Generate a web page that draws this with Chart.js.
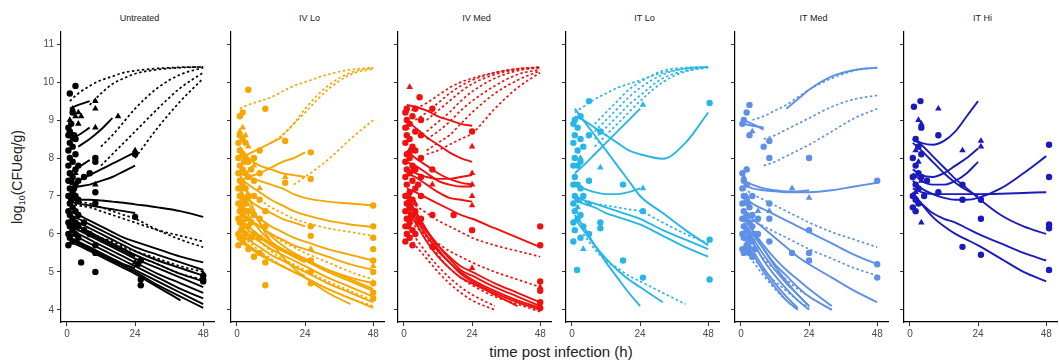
<!DOCTYPE html>
<html>
<head>
  <title>Bacterial burden by treatment</title>
  <script src="https://cdn.jsdelivr.net/npm/chart.js"></script>
  <style>
    body { margin: 0; width: 1059px; height: 362px; overflow: hidden; background: #fff; position: relative; font-family: "Liberation Sans", Arial, sans-serif; }
    canvas { position: absolute; top: 0; }
    .strip { position: absolute; top: 13px; font-size: 9px; color: #1a1a1a; text-align: center; }
    #ytitle { position: absolute; left: 18px; top: 177px; transform: translate(-50%, -50%) rotate(-90deg); font-size: 14px; color: #222; white-space: nowrap; }
    #xtitle { position: absolute; left: 561px; top: 343px; transform: translateX(-50%); font-size: 15px; color: #222; white-space: nowrap; }
  </style>
</head>
<body>
  <div id="ytitle">log<sub style="font-size:9px">10</sub>(CFUeq/g)</div>
  <div id="xtitle">time post infection (h)</div>

  <script>
    // facets and shared axes
    const panelNames = ['Untreated', 'IV Lo', 'IV Med', 'IT Lo', 'IT Med', 'IT Hi'];
    const panelColors = ['#000000', '#F7A600', '#F01010', '#26B6E8', '#5E90E8', '#1A1ABE'];
    const xTicks = [0, 24, 48];
    const yTicks = [4, 5, 6, 7, 8, 9, 10, 11];
    // model curves are given at these times (h)
    const curveTimes = [1, 4, 8, 12, 16, 20, 24, 32, 40, 48];

    // ---- Untreated ----
    const untreatedSolid = [
      [null, 8.3, 8.5, 8.75, 9.05],
      [7.6, 7.75, 7.95],
      [7.3, 7.4, 7.55, 7.7, 7.85, 8.0, 8.15],
      [7.2, 7.25, 7.3, 7.4, 7.5, 7.65, 7.8],
      [9.3, 9.4, 9.5],
      [8.5, 8.6, 8.8],
      [6.9, 6.9, 6.9, 6.88, 6.85, 6.82, 6.78, 6.7, 6.6, 6.45],
      [6.85, 6.8, 6.75, 6.7, 6.65, 6.6, 6.55],
      [6.6, 6.5, 6.35, 6.2, 6.05, 5.9, 5.8, 5.6, 5.4, 5.25],
      [6.5, 6.4, 6.25, 6.1, 5.95, 5.8, 5.65, 5.45, 5.25, 5.05],
      [6.4, 6.3, 6.15, 6.0, 5.85, 5.7, 5.55, 5.3, 5.1, 4.9],
      [6.3, 6.2, 6.05, 5.9, 5.75, 5.6, 5.45, 5.2, 4.95, 4.75],
      [6.2, 6.1, 5.95, 5.8, 5.65, 5.5, 5.35, 5.1, 4.85, 4.6],
      [6.1, 6.0, 5.85, 5.7, 5.55, 5.4, 5.25, 4.95, 4.7, 4.45],
      [6.0, 5.9, 5.75, 5.6, 5.45, 5.3, 5.15, 4.85, 4.55, 4.3],
      [5.9, 5.8, 5.65, 5.5, 5.35, 5.2, 5.05, 4.75, 4.45, 4.15],
      [5.85, 5.75, 5.6, 5.45, 5.3, 5.15, 5.0, 4.65, 4.35, 4.05],
      [5.8, 5.7, 5.55, 5.4, 5.25, 5.1, 4.95, 4.6, 4.25],
      [6.3, 6.2, 6.0, 5.85, 5.7, 5.55, 5.4],
      [5.9, 5.75, 5.6, 5.45, 5.3, 5.2, 5.1]
    ];
    const untreatedDashed = [
      [9.5, 9.7, 9.9, 10.05, 10.15, 10.25, 10.3, 10.36, 10.39, 10.4],
      [null, null, 9.4, 9.7, 9.95, 10.1, 10.22, 10.33, 10.38, 10.4],
      [null, null, null, 8.3, 8.6, 8.95, 9.3, 9.85, 10.2, 10.38],
      [null, null, null, 7.8, 8.1, 8.4, 8.7, 9.3, 9.85, 10.25],
      [null, null, null, null, null, null, 8.0, 8.8, 9.5, 10.1],
      [6.9, 6.85, 6.8, 6.7, 6.6, 6.5, 6.4, 6.1, 5.85, 5.65],
      [6.8, 6.75, 6.7, 6.6, 6.5, 6.4, 6.3, 6.1, 5.95, 5.8],
      [6.3, 6.2, 6.05, 5.9, 5.8, 5.65, 5.55, 5.35, 5.15, 5.0],
      [6.2, 6.1, 6.0, 5.85, 5.7, 5.6, 5.45, 5.2, 4.95, 4.8]
    ];
    const untreatedCircles = [
      [0.5, 5.7], [0.5, 6.0], [0.5, 6.3], [0.5, 6.6], [0.5, 7.0], [0.5, 7.4], [0.5, 7.8], [0.5, 8.2], [0.5, 8.6], [0.5, 8.8],
      [1, 5.9], [1, 6.2], [1, 6.5], [1, 6.8], [1, 7.2], [1, 7.6], [1, 8.0], [1, 8.4], [1, 8.7], [1, 9.7],
      [2, 5.8], [2, 6.1], [2, 6.4], [2, 6.7], [2, 7.1], [2, 7.5], [2, 7.9], [2, 8.3], [2, 9.2],
      [3, 6.0], [3, 6.6], [3, 7.0], [3, 7.3], [3, 7.7], [3, 9.9], [3, 8.1], [3, 8.5], [3, 6.3],
      [4, 6.2], [4, 6.9], [4, 7.4], [4, 5.9], [4, 6.5], [4, 7.8],
      [1.5, 7.4], [1.5, 6.9], [2.5, 6.2], [2.5, 7.2], [2.5, 8.6], [1.5, 8.9],
      [5, 5.25], [6, 6.1], [6, 6.3], [6, 7.5], [8, 6.0], [8, 7.6],
      [10, 5.0], [10, 5.5], [10, 5.7], [10, 7.1], [10, 7.9], [10, 8.0], [10, 6.8],
      [24, 6.45], [24, 8.1], [25, 5.2], [26, 4.8], [26, 4.65], [26, 5.3],
      [48, 4.9], [48, 4.75], [48, 4.8]
    ];
    const untreatedTriangles = [
      [1, 9.0], [2, 9.3], [3, 9.1], [4, 9.2], [4, 8.9], [5, 9.1], [10, 9.5], [10, 9.3], [10, 8.8],
      [18, 9.1], [24, 8.2], [2, 8.5], [3, 7.6], [2, 7.0], [10, 7.3], [24, 5.25], [48, 4.95]
    ];

    // ---- IV Lo ----
    const ivLoSolid = [
      [8.0, 8.1, 8.25, 8.4, 8.55],
      [7.4, 7.5, 7.6, 7.75, 7.9, 8.0, 8.15],
      [8.3, 8.0, 7.8, 7.7, 7.6, 7.55, 7.5],
      [7.6, 7.5, 7.4, 7.3, 7.2, 7.05, 6.95, 6.85, 6.8, 6.75],
      [7.5, 7.3, 7.1, 6.9, 6.75, 6.6, 6.5, 6.35, 6.25, 6.18],
      [7.1, 6.9, 6.7, 6.55, 6.4, 6.3, 6.2],
      [6.8, 6.6, 6.4, 6.2, 6.05, 5.9, 5.8, 5.6, 5.45, 5.3],
      [6.6, 6.4, 6.2, 6.0, 5.85, 5.7, 5.6, 5.4, 5.2, 5.05],
      [6.9, 6.5, 6.1, 5.8, 5.6, 5.45, 5.3, 5.05, 4.85, 4.7],
      [7.2, 6.8, 6.3, 5.95, 5.7, 5.5, 5.35, 5.05, 4.8, 4.55],
      [6.4, 6.2, 5.95, 5.75, 5.6, 5.45, 5.3, 5.0, 4.75, 4.5],
      [6.2, 6.0, 5.8, 5.6, 5.45, 5.3, 5.15, 4.85, 4.6, 4.35],
      [6.0, 5.85, 5.65, 5.45, 5.3, 5.15, 5.0, 4.7, 4.45, 4.2],
      [5.9, 5.7, 5.5, 5.3, 5.15, 5.0, 4.85, 4.55, 4.3, 4.05],
      [7.6, 7.0, 6.3, 5.8, 5.4, 5.1, 4.85, 4.45, 4.15],
      [6.3, 6.1, 5.9, 5.7, 5.55, 5.4, 5.25],
      [5.8, 5.65, 5.45, 5.3, 5.15, 5.0, 4.9]
    ];
    const ivLoDashed = [
      [9.3, 9.4, 9.5, 9.6, 9.75, 9.9, 10.0, 10.2, 10.33, 10.38],
      [null, null, null, null, 8.6, 8.9, 9.3, 9.9, 10.25, 10.38],
      [null, null, null, 8.4, 8.6, 8.9, 9.2, 9.8, 10.2, 10.35],
      [null, null, null, null, null, 7.3, 7.5, 7.95, 8.5, 9.0],
      [7.3, 7.1, 6.9, 6.7, 6.55, 6.4, 6.3, 6.15, 6.05, 5.95],
      [6.6, 6.4, 6.2, 6.0, 5.8, 5.65, 5.5, 5.25, 5.0, 4.8],
      [6.0, 5.8, 5.55, 5.35, 5.15, 5.0, 4.85, 4.55, 4.3, 4.1],
      [6.4, 6.1, 5.8, 5.55, 5.35, 5.2, 5.05, 4.75, 4.5, 4.25]
    ];
    const ivLoCircles = [
      [0.5, 5.7], [0.5, 6.0], [0.5, 6.4], [0.5, 6.8], [0.5, 7.2], [0.5, 7.6], [0.5, 8.0], [0.5, 8.4],
      [1, 5.9], [1, 6.3], [1, 6.6], [1, 7.0], [1, 7.4], [1, 7.8], [1, 8.2], [1, 8.6], [1, 9.1],
      [2, 5.8], [2, 6.2], [2, 6.5], [2, 6.9], [2, 7.3], [2, 7.7], [2, 8.1], [2, 8.5], [2, 9.2],
      [3, 6.0], [3, 6.4], [3, 6.8], [3, 7.2], [3, 7.6], [3, 8.0], [3, 8.4],
      [4, 5.6], [4, 6.2], [4, 6.6], [4, 7.0], [4, 7.5], [4, 7.9], [4, 9.8],
      [1.5, 6.1], [1.5, 6.7], [1.5, 7.2], [2.5, 6.6], [2.5, 7.9], [5, 6.3], [5, 7.7], [5, 5.9],
      [6, 5.4], [6, 6.0], [6, 6.5], [6, 7.0], [6, 7.4], [6, 8.0],
      [8, 5.9], [8, 6.4], [8, 6.9], [8, 7.6], [8, 8.2], [8, 5.5],
      [10, 5.25], [10, 4.65], [10, 9.3], [10, 6.2], [10, 6.6],
      [17, 8.45], [17, 7.35],
      [26, 8.15], [26, 7.45], [26, 6.2], [26, 5.95], [26, 5.3], [26, 5.0], [26, 4.7],
      [48, 6.75], [48, 6.2], [48, 5.9], [48, 5.6], [48, 5.3], [48, 5.0], [48, 4.7], [48, 4.45], [48, 4.3]
    ];
    const ivLoTriangles = [
      [1, 8.7], [2, 8.8], [3, 8.6], [4, 8.3], [6, 7.8], [8, 7.2], [3, 5.9], [17, 7.5], [26, 5.6], [48, 5.15]
    ];

    // ---- IV Med ----
    const ivMedSolid = [
      [9.4, 9.35, 9.25, 9.1, 9.0, 8.9, 8.85],
      [9.0, 8.8, 8.55, 8.35, 8.15, 8.0, 7.9],
      [7.7, 7.6, 7.5, 7.45, 7.45, 7.5, 7.55],
      [7.9, 7.8, 7.6, 7.4, 7.3, 7.25, 7.25],
      [7.6, 7.5, 7.3, 7.1, 6.95, 6.9, 6.85],
      [8.2, 8.0, 7.8, 7.6, 7.45, 7.35, 7.3],
      [7.2, 7.1, 6.95, 6.8, 6.65, 6.5, 6.4, 6.15, 5.9, 5.65],
      [6.8, 6.5, 6.05, 5.7, 5.4, 5.15, 5.0, 4.7, 4.45, 4.2],
      [6.9, 6.6, 6.1, 5.7, 5.35, 5.05, 4.9, 4.6, 4.35, 4.1],
      [6.7, 6.4, 5.95, 5.55, 5.25, 4.95, 4.75, 4.45, 4.2, 4.0],
      [7.0, 6.6, 6.1, 5.6, 5.25, 5.0, 4.8, 4.5, 4.25, 4.05],
      [6.6, 6.3, 5.8, 5.4, 5.1, 4.85, 4.7, 4.4, 4.1]
    ];
    const ivMedDashed = [
      [9.2, 9.3, 9.45, 9.65, 9.85, 10.0, 10.1, 10.25, 10.35, 10.38],
      [null, 9.0, 9.2, 9.45, 9.7, 9.9, 10.05, 10.25, 10.35, 10.4],
      [null, null, 9.0, 9.25, 9.5, 9.75, 9.95, 10.2, 10.33, 10.39],
      [null, null, 8.7, 8.95, 9.2, 9.5, 9.75, 10.1, 10.3, 10.38],
      [null, null, 8.5, 8.7, 8.95, 9.25, 9.5, 9.9, 10.2, 10.33],
      [null, null, 8.2, 8.4, 8.6, 8.9, 9.2, 9.7, 10.05, 10.3],
      [null, null, 8.1, 8.2, 8.35, 8.5, 8.65, 9.3, 9.85, 10.25],
      [6.9, 6.75, 6.55, 6.35, 6.2, 6.05, 5.9, 5.7, 5.55, 5.4],
      [6.4, 6.2, 5.95, 5.75, 5.55, 5.4, 5.25, 5.0, 4.8, 4.6],
      [6.2, 5.9, 5.5, 5.15, 4.85, 4.6, 4.4, 4.1],
      [6.0, 5.7, 5.35, 5.0, 4.7, 4.45, 4.25, 4.0],
      [6.9, 6.5, 5.9, 5.45, 5.1, 4.85, 4.65, 4.35, 4.15, 3.95]
    ];
    const ivMedCircles = [
      [0.5, 5.8], [0.5, 6.2], [0.5, 6.6], [0.5, 7.0], [0.5, 7.5], [0.5, 7.9], [0.5, 8.4], [0.5, 8.8], [0.5, 9.2],
      [1, 6.0], [1, 6.4], [1, 6.8], [1, 7.3], [1, 7.7], [1, 8.1], [1, 8.6], [1, 9.0], [1, 9.3],
      [2, 5.9], [2, 6.3], [2, 6.7], [2, 7.1], [2, 7.6], [2, 8.0], [2, 8.5], [2, 8.9],
      [3, 6.1], [3, 6.5], [3, 6.9], [3, 7.4], [3, 7.8], [3, 8.3], [3, 9.1], [3, 5.7],
      [4, 6.0], [4, 6.6], [4, 7.2], [4, 7.7], [4, 8.2], [4, 8.7], [4, 9.3],
      [1.5, 6.2], [1.5, 7.0], [2.5, 6.5], [2.5, 8.2], [5, 6.3], [5, 7.3],
      [5.5, 9.6], [6, 6.4], [6, 7.0], [6, 7.5], [6, 8.0], [6, 8.6], [6, 9.0],
      [10, 9.3], [10, 5.66], [10, 7.7], [10, 6.5],
      [17.5, 6.5], [24, 6.1], [24, 8.7],
      [48, 6.2], [48, 5.7], [48, 4.75], [48, 4.5], [48, 4.2], [48, 4.05]
    ];
    const ivMedTriangles = [
      [2, 9.87], [1, 8.8], [2, 8.2], [3, 7.7], [4, 6.8], [24, 8.3], [24, 7.6], [24, 7.3], [24, 7.0],
      [24, 6.75], [10, 7.3], [2, 6.4], [24, 5.1], [48, 4.6]
    ];

    // ---- IT Lo ----
    const itLoSolid = [
      [7.6, 7.8, 8.1, 8.4, 8.7, 9.0, 9.3],
      [9.1, 9.0, 8.8, 8.6, 8.4, 8.2, 8.1, 7.98, 8.4, 9.2],
      [9.3, 9.0, 8.6, 8.2, 7.8, 7.4, 7.0, 6.55, 6.1, 5.7],
      [7.3, 7.2, 7.1, 7.05, 7.05, 7.1, 7.2],
      [7.0, 6.9, 6.8, 6.7, 6.6, 6.5, 6.4, 6.1, 5.85, 5.6],
      [6.9, 6.8, 6.7, 6.55, 6.45, 6.35, 6.25, 5.95, 5.65, 5.4],
      [6.5, 6.2, 5.7, 5.25, 4.85, 4.45, 4.1],
      [6.4, 6.1, 5.7, 5.35, 5.05, 4.8, 4.6, 4.2]
    ];
    const itLoDashed = [
      [9.2, 9.35, 9.55, 9.7, 9.85, 9.95, 10.05, 10.25, 10.35, 10.4],
      [null, null, 8.9, 9.2, 9.5, 9.8, 10.0, 10.3, 10.38, 10.4],
      [null, null, 8.7, 9.0, 9.3, 9.6, 9.85, 10.2, 10.36, 10.4],
      [null, null, 8.5, 8.8, 9.1, 9.4, 9.65, 10.1, 10.3, 10.4],
      [null, null, 8.3, 8.6, 8.9, 9.2, 9.5, 10.0, 10.28, 10.38],
      [6.9, 6.85, 6.8, 6.75, 6.7, 6.65, 6.6, 6.3, 6.0, 5.75],
      [null, 6.0, 5.6, 5.3, 5.1, 4.9, 4.75, 4.45, 4.15]
    ];
    const itLoCircles = [
      [0.5, 5.8], [0.5, 6.3], [0.5, 6.8], [0.5, 7.3], [0.5, 7.8], [0.5, 8.4], [0.5, 8.9],
      [1, 6.1], [1, 6.6], [1, 7.0], [1, 7.5], [1, 8.0], [1, 8.6], [1, 9.0],
      [1.8, 5.05], [2, 6.4], [2, 6.9], [2, 7.3], [2, 7.8], [2, 8.2], [2, 8.8],
      [3, 5.9], [3, 6.5], [3, 7.2], [3, 7.9], [3, 8.5], [3, 9.1],
      [4, 6.2], [4, 7.0], [4, 8.3], [6, 9.5], [6, 8.6], [6, 7.4], [6, 6.0],
      [10, 6.3], [10, 6.15], [10, 8.7], [18, 7.3], [18, 5.3], [25, 4.85], [25, 6.6],
      [48.5, 9.45], [48.5, 5.85], [48.5, 4.8]
    ];
    const itLoTriangles = [
      [1, 7.3], [2, 6.7], [3, 8.0], [4, 5.6], [10, 7.75], [25, 9.4], [25, 7.2], [6, 6.8]
    ];

    // ---- IT Med ----
    const itMedSolid = [
      [null, null, null, null, 9.3, 9.55, 9.8, 10.15, 10.32, 10.38],
      [9.0, 8.9, 8.75],
      [8.9, 8.85, 8.8],
      [7.4, 7.3, 7.2, 7.15, 7.12, 7.12, 7.15],
      [7.3, 7.2, 7.15, 7.12, 7.1, 7.1, 7.1, 7.15, 7.25, 7.35],
      [7.0, 6.8, 6.65, 6.5, 6.35, 6.2, 6.05, 5.75, 5.45, 5.2],
      [6.6, 6.4, 6.15, 5.9, 5.65, 5.4, 5.2, 4.85, 4.5, 4.2],
      [6.4, 6.1, 5.7, 5.35, 5.05, 4.8, 4.55, 4.1],
      [6.3, 6.0, 5.6, 5.2, 4.9, 4.6, 4.35, 4.0],
      [6.2, 5.9, 5.45, 5.05, 4.7, 4.4, 4.1],
      [6.1, 5.8, 5.3, 4.9, 4.55, 4.25, 4.0],
      [6.0, 5.6, 5.1, 4.7, 4.35, 4.05],
      [5.9, 5.5, 5.0, 4.6, 4.25, 4.0],
      [6.5, 6.1, 5.6, 5.15, 4.75, 4.4, 4.1]
    ];
    const itMedDashed = [
      [null, 9.0, 9.1, 9.25, 9.4, 9.6, 9.8, 10.1, 10.3, 10.38],
      [null, null, 8.5, 8.6, 8.75, 8.9, 9.05, 9.35, 9.55, 9.65],
      [null, null, 7.8, 7.9, 8.05, 8.2, 8.35, 8.7, 9.05, 9.3],
      [7.2, 7.05, 6.9, 6.75, 6.6, 6.45, 6.3, 6.05, 5.85, 5.65],
      [6.5, 6.35, 6.2, 6.05, 5.9, 5.75, 5.6, 5.35, 5.1, 4.9],
      [6.0, 5.7, 5.35, 5.05, 4.8, 4.55, 4.35, 4.0],
      [5.7, 5.4, 5.05, 4.75, 4.5, 4.25, 4.05],
      [5.6, 5.3, 4.9, 4.55, 4.25, 4.0]
    ];
    const itMedCircles = [
      [0.5, 5.6], [0.5, 6.0], [0.5, 6.4], [0.5, 6.8], [0.5, 7.2], [0.5, 7.6], [0.5, 8.9],
      [1, 5.5], [1, 5.9], [1, 6.2], [1, 6.6], [1, 7.0], [1, 7.4], [1, 9.0],
      [2, 5.7], [2, 6.1], [2, 6.5], [2, 6.9], [2, 7.3], [2, 7.7], [2, 9.2],
      [3, 5.5], [3, 5.9], [3, 6.3], [3, 6.7], [3, 8.6], [3, 9.4],
      [4, 5.4], [4, 5.8], [4, 6.2], [4, 6.5], [4, 7.0],
      [1.5, 6.4], [2.5, 5.6], [2.5, 6.8], [5, 5.6], [5, 6.0],
      [6, 6.0], [6, 6.4], [8, 8.3], [10, 8.45], [10, 8.0], [10, 6.8], [10, 6.4], [10, 5.8],
      [18, 5.5], [24, 8.0], [24, 6.1], [24, 5.5], [24, 5.3],
      [48, 7.4], [48, 5.2], [48, 4.85]
    ];
    const itMedTriangles = [
      [1, 7.5], [2, 7.7], [2, 7.0], [3, 6.0], [4, 8.7], [6, 6.6], [18, 7.2], [24, 6.95], [10, 6.6]
    ];

    // ---- IT Hi ----
    const itHiSolid = [
      [8.5, 8.4, 8.35, 8.45, 8.7, 9.1, 9.5],
      [7.7, 7.55, 7.5, 7.6, 7.8, 8.0, 8.25],
      [7.6, 7.4, 7.3, 7.3, 7.4, 7.6, 7.9],
      [7.2, 7.1, 7.05, 7.05, 7.05, 7.05, 7.05, 7.06, 7.08, 7.1],
      [7.4, 7.2, 7.05, 6.95, 6.9, 6.9, 6.95, 7.2, 7.6, 8.05],
      [8.5, 8.35, 8.05, 7.75, 7.45, 7.2, 6.95, 6.5, 6.2, 6.0],
      [8.4, 8.2, 7.9, 7.6, 7.35, 7.15, 7.0],
      [7.0, 6.8, 6.55, 6.4, 6.3, 6.15, 6.0, 5.75, 5.5, 5.3],
      [7.1, 6.8, 6.45, 6.2, 6.0, 5.85, 5.7, 5.35, 5.0, 4.75]
    ];
    const itHiDashed = [];
    const itHiCircles = [
      [1.4, 9.35], [3.7, 9.5], [4, 8.8], [1, 8.0], [1, 7.5], [1, 7.0], [1, 6.7], [2, 8.5], [2, 7.8],
      [2, 7.3], [2, 6.9], [2, 6.6], [3, 8.3], [3, 7.6], [3, 7.2], [3, 6.8], [4, 8.1], [4, 7.5],
      [5, 7.0], [6, 7.4], [10, 8.6], [10, 7.1],
      [18.5, 7.3], [18.5, 6.9], [18.5, 5.66], [25, 6.9], [25, 6.4], [25, 5.45],
      [49, 8.35], [49, 7.5], [49, 6.25], [49, 6.15], [49, 5.05]
    ];
    const itHiTriangles = [
      [2, 8.2], [3, 9.0], [4, 8.9], [3, 7.9], [4, 7.4], [2, 7.1], [4, 6.3], [10, 9.3],
      [18.5, 8.2], [25, 8.45], [25, 8.3]
    ];

    const panelSolid = [untreatedSolid, ivLoSolid, ivMedSolid, itLoSolid, itMedSolid, itHiSolid];
    const panelDashed = [untreatedDashed, ivLoDashed, ivMedDashed, itLoDashed, itMedDashed, itHiDashed];
    const panelCircles = [untreatedCircles, ivLoCircles, ivMedCircles, itLoCircles, itMedCircles, itHiCircles];
    const panelTriangles = [untreatedTriangles, ivLoTriangles, ivMedTriangles, itLoTriangles, itMedTriangles, itHiTriangles];

    // layout of the facet strip
    const plotLeft = [61, 231, 398, 566, 735, 904];
    const plotWidth = 157;
    const fontFamily = '"Liberation Sans", Arial, sans-serif';

    function curveData(vals) {
      return curveTimes.map((t, i) => ({ x: t, y: vals[i] })).filter(p => p.y != null);
    }
    function pointData(pts) {
      return pts.map(p => ({ x: p[0], y: p[1] }));
    }

    panelNames.forEach((name, i) => {
      const color = panelColors[i];
      const yw = i === 0 ? 36 : 6;
      const left = plotLeft[i] - yw;

      const strip = document.createElement('div');
      strip.className = 'strip';
      strip.style.left = plotLeft[i] + 'px';
      strip.style.width = plotWidth + 'px';
      strip.textContent = name;
      document.body.appendChild(strip);

      const canvas = document.createElement('canvas');
      canvas.width = yw + plotWidth;
      canvas.height = 362;
      canvas.style.left = left + 'px';
      document.body.appendChild(canvas);

      const datasets = [];
      panelSolid[i].forEach(vals => datasets.push({
        type: 'line', data: curveData(vals), borderColor: color, borderWidth: 1.9,
        pointRadius: 0, cubicInterpolationMode: 'monotone', fill: false
      }));
      panelDashed[i].forEach(vals => datasets.push({
        type: 'line', data: curveData(vals), borderColor: color, borderWidth: 1.7,
        borderDash: [2.5, 2.5], pointRadius: 0, cubicInterpolationMode: 'monotone', fill: false
      }));
      datasets.push({
        type: 'scatter', data: pointData(panelCircles[i]), backgroundColor: color,
        borderColor: color, pointStyle: 'circle', pointRadius: 3.2, borderWidth: 0
      });
      datasets.push({
        type: 'scatter', data: pointData(panelTriangles[i]), backgroundColor: color,
        borderColor: color, pointStyle: 'triangle', pointRadius: 3.8, borderWidth: 0
      });

      new Chart(canvas.getContext('2d'), {
        type: 'line',
        data: { datasets: datasets },
        options: {
          responsive: false,
          animation: false,
          layout: { padding: { top: 32, left: 0, right: 0, bottom: 0 } },
          plugins: { legend: { display: false }, tooltip: { enabled: false } },
          scales: {
            x: {
              type: 'linear', min: -2.1, max: 51.8,
              afterBuildTicks: s => { s.ticks = xTicks.map(v => ({ value: v })); },
              afterFit: s => { s.height = 40; },
              grid: { display: true, drawOnChartArea: false, drawTicks: true, tickLength: 4, color: '#333' },
              border: { display: true, color: '#000', width: 1.2 },
              ticks: { color: '#4d4d4d', font: { size: 10, family: fontFamily }, padding: 2, maxRotation: 0 }
            },
            y: {
              type: 'linear', min: 3.68, max: 11.32,
              afterBuildTicks: s => { s.ticks = yTicks.map(v => ({ value: v })); },
              afterFit: s => { s.width = yw; },
              grid: { display: true, drawOnChartArea: false, drawTicks: true, tickLength: 4, color: '#333' },
              border: { display: true, color: '#000', width: 1.2 },
              ticks: { display: i === 0, color: '#4d4d4d', font: { size: 10, family: fontFamily }, padding: 3 }
            }
          }
        }
      });
    });
  </script>
</body>
</html>
